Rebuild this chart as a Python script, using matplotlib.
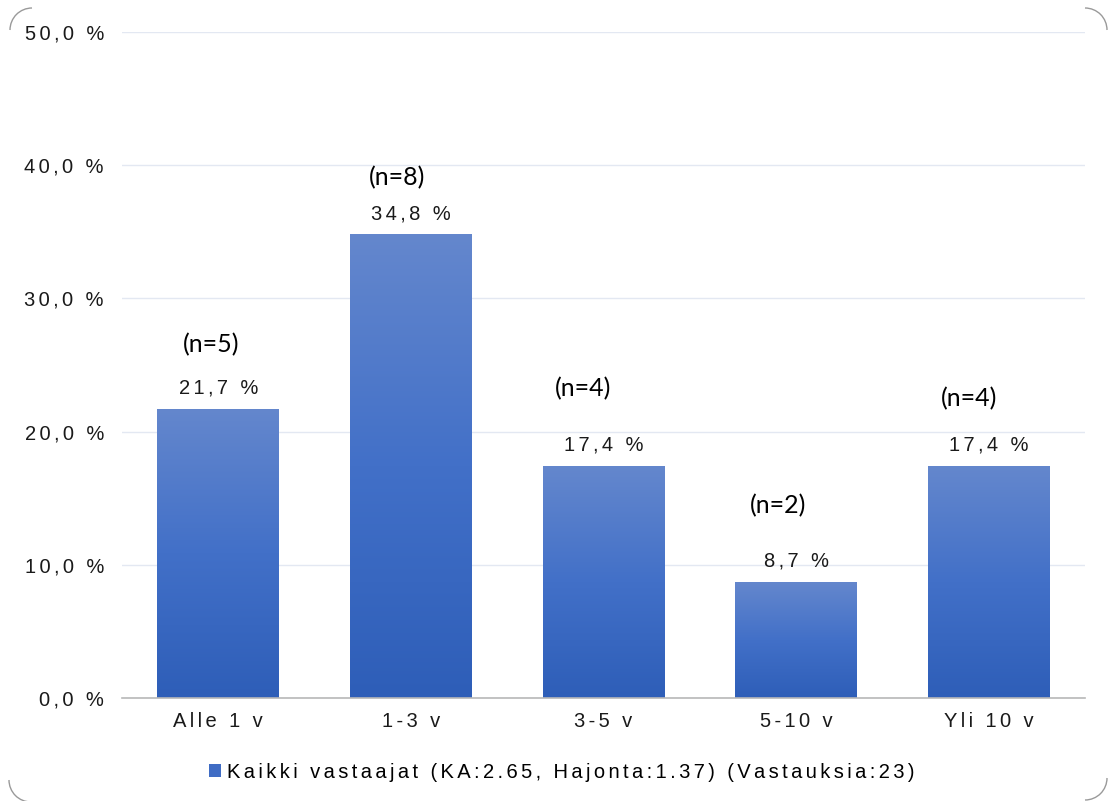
import numpy as np
import matplotlib
matplotlib.use("Agg")
import matplotlib.pyplot as plt
from matplotlib.patches import Patch, Arc
from matplotlib.colors import LinearSegmentedColormap

categories = ["Alle 1 v", "1-3 v", "3-5 v", "5-10 v", "Yli 10 v"]
shares = [21.7, 34.8, 17.4, 8.7, 17.4]
counts = [5, 8, 4, 2, 4]
yticks = [0, 10, 20, 30, 40, 50]
series_label = "Kaikki vastaajat (KA:2.65, Hajonta:1.37) (Vastauksia:23)"

# hand placed offsets (points) of the "(n=..)" notes relative to the bar tops
n_dx = [-5, -10, -15, -13, -14]
n_dy = [46, 41, 56, 55, 49]

TEXT_FONT = ["Liberation Sans", "DejaVu Sans"]
NOTE_FONT = ["Lato", "DejaVu Sans"]
FS = 14.5


def spaced(s):
    # loose letter spacing like the original report styling
    return "\u2006".join(s)


def fmt_pct(v):
    return f"{v:.1f}".replace(".", ",") + " %"


fig = plt.figure(figsize=(11.10, 8.01), dpi=100)
ax = fig.add_axes([0.1099, 0.1286, 0.8676, 0.8314])

x = np.arange(len(categories))
bars = ax.bar(x, shares, width=0.633, color="#4472c4", zorder=2)

cmap = LinearSegmentedColormap.from_list("bar", ["#2e5eb8", "#4270c8", "#6487cd"])
grad = np.linspace(0, 1, 256).reshape(-1, 1)
for b in bars:
    x0, w, h = b.get_x(), b.get_width(), b.get_height()
    im = ax.imshow(grad, cmap=cmap, origin="lower", aspect="auto",
                   extent=(x0, x0 + w, 0, h), zorder=3)
    im.set_clip_path(b)

ax.set_xlim(-0.5, len(categories) - 0.5)
ax.set_ylim(0, 50)
ax.set_yticks(yticks)
ax.set_yticklabels([spaced(fmt_pct(v)) for v in yticks], family=TEXT_FONT, fontsize=FS, color="#1a1a1a")
ax.set_xticks(x)
ax.set_xticklabels([spaced(c) for c in categories], family=TEXT_FONT, fontsize=FS, color="#1a1a1a")
ax.tick_params(axis="y", length=0, pad=13)
ax.tick_params(axis="x", length=0, pad=10)

ax.grid(axis="y", color="#e3e8f2", linewidth=1, zorder=0)
for side in ["left", "right", "top"]:
    ax.spines[side].set_visible(False)
ax.spines["bottom"].set_color("#b8b8b8")
ax.spines["bottom"].set_linewidth(1.2)
ax.spines["bottom"].set_zorder(4)

for i, (v, n) in enumerate(zip(shares, counts)):
    ax.annotate(spaced(fmt_pct(v)), (x[i], v), xytext=(0, 15), textcoords="offset points",
                ha="center", va="center", family=TEXT_FONT, fontsize=FS, color="#1a1a1a")
    ax.annotate(f"(n={n})", (x[i], v), xytext=(n_dx[i], n_dy[i]), textcoords="offset points",
                ha="center", va="center", family=NOTE_FONT, fontsize=18, color="#000000")

handle = Patch(facecolor="#3f6cc4", edgecolor="none")
fig.legend([handle], [spaced(series_label)], loc="center", bbox_to_anchor=(0.506, 0.0362),
           frameon=False, handlelength=0.6, handleheight=0.6, handletextpad=0.3,
           prop={"family": TEXT_FONT, "size": FS})

# rounded card corners
W, H = 1110, 801
r = 22
corners = [((32, 30), 90, 180), ((1085, 30), 0, 90), ((31, 780), 180, 270), ((1085, 778), 270, 360)]
for (cx, cy), t1, t2 in corners:
    fig.add_artist(Arc((cx / W, 1 - cy / H), 2 * r / W, 2 * r / H, theta1=t1, theta2=t2,
                       transform=fig.transFigure, color="#9a9a9a", linewidth=1))

fig.savefig("out.png", dpi=100, facecolor="white")
